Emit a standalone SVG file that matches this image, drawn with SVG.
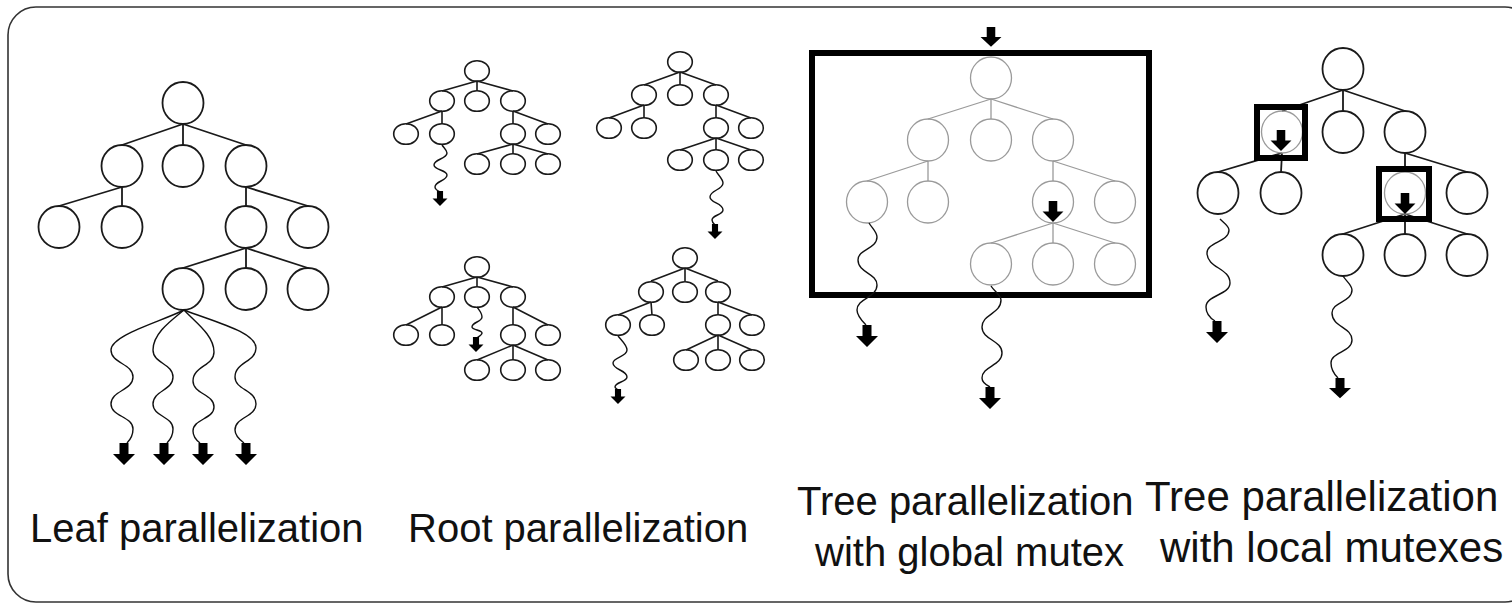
<svg xmlns="http://www.w3.org/2000/svg" width="1512" height="603" viewBox="0 0 1512 603">
<style>
.n{fill:none;stroke:#1a1a1a;stroke-width:1.8}
.ns{fill:none;stroke:#1a1a1a;stroke-width:1.6}
.ng{fill:none;stroke:#9a9a9a;stroke-width:1.3}
.e{fill:none;stroke:#1a1a1a;stroke-width:1.8}
.es{fill:none;stroke:#1a1a1a;stroke-width:1.6}
.eg{fill:none;stroke:#9a9a9a;stroke-width:1.3}
.w{fill:none;stroke:#111;stroke-width:1.4}
.mx{fill:none;stroke:#000;stroke-width:6}
.t{font-family:"Liberation Sans",Arial,Helvetica,sans-serif;font-size:40px;fill:#111}
.a{fill:#000}
</style>
<defs>
<path id="arr" d="M-4.5,0H4.5V11H11L0,22L-11,11H-4.5Z"/>
</defs>
<rect x="8" y="7" width="1525" height="595" rx="28" ry="28" fill="#fff" stroke="#333" stroke-width="1.6"/>

<g id="leaf">
<g id="leaf-edges">
<path class="e" d="M183,124L122,145M183,124L183,145M183,124L246,145M122,187L59,206M122,187L122,206M246,187L246,206M246,187L308,206M246,248L183,268M246,248L246,268M246,248L308,268"/>
</g>
<g id="leaf-nodes">
<ellipse class="n" cx="183" cy="103" rx="20.5" ry="21"/>
<ellipse class="n" cx="122" cy="166" rx="20.5" ry="21"/>
<ellipse class="n" cx="183" cy="166" rx="20.5" ry="21"/>
<ellipse class="n" cx="246" cy="166" rx="20.5" ry="21"/>
<ellipse class="n" cx="59" cy="227" rx="20.5" ry="21"/>
<ellipse class="n" cx="122" cy="227" rx="20.5" ry="21"/>
<ellipse class="n" cx="246" cy="227" rx="20.5" ry="21"/>
<ellipse class="n" cx="308" cy="227" rx="20.5" ry="21"/>
<ellipse class="n" cx="183" cy="289" rx="20.5" ry="21"/>
<ellipse class="n" cx="246" cy="289" rx="20.5" ry="21"/>
<ellipse class="n" cx="308" cy="289" rx="20.5" ry="21"/>
</g>
<g id="leaf-threads">
<path class="w" d="M184,310C160,322 111,335 111,350C111,363.5 133,363.5 133,377C133,390.5 111,390.5 111,404C111,416.5 133,416.5 133,429C133,436 130,440 127,443"/>
<path class="w" d="M184,310C172,320 153,333 153,350C153,363.5 173,363.5 173,377C173,390.5 153,390.5 153,404C153,416.5 173,416.5 173,429C173,436 170,440 167,443"/>
<path class="w" d="M184,310C195,322 214,335 214,352C214,366 193,366 193,381C193,394 214,394 214,407C214,419 193,419 193,431C193,436 196,440 200,443"/>
<path class="w" d="M184,310C215,322 256,332 256,348C256,362 235,362 235,377C235,390 256,390 256,404C256,417 235,417 235,430C235,436 240,440 244,443"/>
<use href="#arr" class="a" transform="translate(124,443)"/>
<use href="#arr" class="a" transform="translate(164,443)"/>
<use href="#arr" class="a" transform="translate(203,443)"/>
<use href="#arr" class="a" transform="translate(246,443)"/>
</g>
<text class="t" x="30" y="542">Leaf parallelization</text>
</g>

<g id="root">
<g id="root-tree-a">
<path class="es" d="M477,81L442,91M477,81L477,91M477,81L513,91M442,111L406,124M442,111L442,124M513,111L513,124M513,111L548,124M513,144L477,154M513,144L513,154M513,144L548,154"/>
<ellipse class="ns" cx="477" cy="71" rx="12.3" ry="10.3"/>
<ellipse class="ns" cx="442" cy="101" rx="12.3" ry="10.3"/>
<ellipse class="ns" cx="477" cy="101" rx="12.3" ry="10.3"/>
<ellipse class="ns" cx="513" cy="101" rx="12.3" ry="10.3"/>
<ellipse class="ns" cx="406" cy="134" rx="12.3" ry="10.3"/>
<ellipse class="ns" cx="442" cy="134" rx="12.3" ry="10.3"/>
<ellipse class="ns" cx="513" cy="134" rx="12.3" ry="10.3"/>
<ellipse class="ns" cx="548" cy="134" rx="12.3" ry="10.3"/>
<ellipse class="ns" cx="477" cy="164" rx="12.3" ry="10.3"/>
<ellipse class="ns" cx="513" cy="164" rx="12.3" ry="10.3"/>
<ellipse class="ns" cx="548" cy="164" rx="12.3" ry="10.3"/>
<path class="w" d="M442,145C444,148 447,150 447,153C447,159 434,159 434,165C434,170 447,170 447,175C447,181 435,181 435,187C435,189 438,191 440,192"/>
<use href="#arr" class="a" transform="translate(440,191) scale(0.68)"/>
</g>
<g id="root-tree-b">
<path class="es" d="M680,72L644,85M680,72L680,85M680,72L716,85M644,105L609,118M644,105L644,118M716,105L716,118M716,105L751,118M716,138L680,150M716,138L716,150M716,138L751,150"/>
<ellipse class="ns" cx="680" cy="62" rx="12.3" ry="10.3"/>
<ellipse class="ns" cx="644" cy="95" rx="12.3" ry="10.3"/>
<ellipse class="ns" cx="680" cy="95" rx="12.3" ry="10.3"/>
<ellipse class="ns" cx="716" cy="95" rx="12.3" ry="10.3"/>
<ellipse class="ns" cx="609" cy="128" rx="12.3" ry="10.3"/>
<ellipse class="ns" cx="644" cy="128" rx="12.3" ry="10.3"/>
<ellipse class="ns" cx="716" cy="128" rx="12.3" ry="10.3"/>
<ellipse class="ns" cx="751" cy="128" rx="12.3" ry="10.3"/>
<ellipse class="ns" cx="680" cy="160" rx="12.3" ry="10.3"/>
<ellipse class="ns" cx="716" cy="160" rx="12.3" ry="10.3"/>
<ellipse class="ns" cx="751" cy="160" rx="12.3" ry="10.3"/>
<path class="w" d="M716,171C718,175 723,179 723,183C723,190 710,190 710,197C710,203 723,203 723,210C723,215 712,215 712,220C712,222 714,224 715,225"/>
<use href="#arr" class="a" transform="translate(715,224) scale(0.68)"/>
</g>
<g id="root-tree-c">
<path class="es" d="M477,277L442,287M477,277L477,287M477,277L513,287M442,307L406,325M442,307L442,325M513,307L513,325M513,307L548,325M513,345L477,360M513,345L513,360M513,345L548,360"/>
<ellipse class="ns" cx="477" cy="267" rx="12.3" ry="10.3"/>
<ellipse class="ns" cx="442" cy="297" rx="12.3" ry="10.3"/>
<ellipse class="ns" cx="477" cy="297" rx="12.3" ry="10.3"/>
<ellipse class="ns" cx="513" cy="297" rx="12.3" ry="10.3"/>
<ellipse class="ns" cx="406" cy="335" rx="12.3" ry="10.3"/>
<ellipse class="ns" cx="442" cy="335" rx="12.3" ry="10.3"/>
<ellipse class="ns" cx="513" cy="335" rx="12.3" ry="10.3"/>
<ellipse class="ns" cx="548" cy="335" rx="12.3" ry="10.3"/>
<ellipse class="ns" cx="477" cy="370" rx="12.3" ry="10.3"/>
<ellipse class="ns" cx="513" cy="370" rx="12.3" ry="10.3"/>
<ellipse class="ns" cx="548" cy="370" rx="12.3" ry="10.3"/>
<path class="w" d="M477,307C479,310 482,313 482,317C482,322 472,322 472,327C472,330 482,330 482,333C482,335 478,337 477,338"/>
<use href="#arr" class="a" transform="translate(476,337) scale(0.68)"/>
</g>
<g id="root-tree-d">
<path class="es" d="M685,268L651,281M685,268L685,281M685,268L718,281M651,302L618,315M651,302L652,315M718,302L718,315M718,302L752,315M718,335L686,350M718,335L718,350M718,335L752,350"/>
<ellipse class="ns" cx="685" cy="258" rx="12.3" ry="10.3"/>
<ellipse class="ns" cx="651" cy="292" rx="12.3" ry="10.3"/>
<ellipse class="ns" cx="685" cy="292" rx="12.3" ry="10.3"/>
<ellipse class="ns" cx="718" cy="292" rx="12.3" ry="10.3"/>
<ellipse class="ns" cx="618" cy="325" rx="12.3" ry="10.3"/>
<ellipse class="ns" cx="652" cy="325" rx="12.3" ry="10.3"/>
<ellipse class="ns" cx="718" cy="325" rx="12.3" ry="10.3"/>
<ellipse class="ns" cx="752" cy="325" rx="12.3" ry="10.3"/>
<ellipse class="ns" cx="686" cy="360" rx="12.3" ry="10.3"/>
<ellipse class="ns" cx="718" cy="360" rx="12.3" ry="10.3"/>
<ellipse class="ns" cx="752" cy="360" rx="12.3" ry="10.3"/>
<path class="w" d="M618,336C621,340 627,345 627,350C627,357 613,357 613,363C613,370 627,370 627,377C627,382 615,382 615,387C615,388 617,389 618,390"/>
<use href="#arr" class="a" transform="translate(618,389) scale(0.68)"/>
</g>
<text class="t" x="408" y="542">Root parallelization</text>
</g>

<g id="global">
<g id="global-edges">
<path class="eg" d="M991,99L928,119M991,99L991,119M991,99L1053,119M928,161L867,181M928,161L928,181M1053,161L1053,181M1053,161L1115,181M1053,223L991,243M1053,223L1053,243M1053,223L1115,243"/>
</g>
<g id="global-nodes">
<ellipse class="ng" cx="991" cy="78" rx="20.5" ry="21"/>
<ellipse class="ng" cx="928" cy="140" rx="20.5" ry="21"/>
<ellipse class="ng" cx="991" cy="140" rx="20.5" ry="21"/>
<ellipse class="ng" cx="1053" cy="140" rx="20.5" ry="21"/>
<ellipse class="ng" cx="867" cy="202" rx="20.5" ry="21"/>
<ellipse class="ng" cx="928" cy="202" rx="20.5" ry="21"/>
<ellipse class="ng" cx="1053" cy="202" rx="20.5" ry="21"/>
<ellipse class="ng" cx="1115" cy="202" rx="20.5" ry="21"/>
<ellipse class="ng" cx="991" cy="264" rx="20.5" ry="21"/>
<ellipse class="ng" cx="1053" cy="264" rx="20.5" ry="21"/>
<ellipse class="ng" cx="1115" cy="264" rx="20.5" ry="21"/>
</g>
<rect id="global-mutex" class="mx" x="812" y="53" width="337" height="242"/>
<use href="#arr" class="a" transform="translate(991,27) scale(0.95,0.9)"/>
<use href="#arr" class="a" transform="translate(1053,201) scale(0.95)"/>
<g id="global-threads">
<path class="w" d="M869,223C872,228 877,232 877,237C877,249 858,249 858,260C858,273 877,273 877,285C877,298 857,298 857,310C857,316 862,321 866,325"/>
<path class="w" d="M991,286C994,291 1001,295 1001,300C1001,314 982,314 982,327C982,340 1002,340 1002,353C1002,366 982,366 982,378C982,382 986,385 990,387"/>
<use href="#arr" class="a" transform="translate(867,325)"/>
<use href="#arr" class="a" transform="translate(990,387)"/>
</g>
<text class="t" x="797" y="515">Tree parallelization</text>
<text class="t" x="815" y="566">with global mutex</text>
</g>

<g id="local">
<g id="local-edges">
<path class="e" d="M1343,90L1282,111M1343,90L1343,111M1343,90L1405,111M1282,153L1218,172M1282,153L1281,172M1405,153L1405,172M1405,153L1467,172M1405,214L1343,234M1405,214L1405,234M1405,214L1467,234"/>
</g>
<g id="local-nodes">
<ellipse class="n" cx="1343" cy="69" rx="20.5" ry="21"/>
<ellipse class="ng" cx="1282" cy="132" rx="20.5" ry="21"/>
<ellipse class="n" cx="1343" cy="132" rx="20.5" ry="21"/>
<ellipse class="n" cx="1405" cy="132" rx="20.5" ry="21"/>
<ellipse class="n" cx="1218" cy="193" rx="20.5" ry="21"/>
<ellipse class="n" cx="1281" cy="193" rx="20.5" ry="21"/>
<ellipse class="ng" cx="1405" cy="193" rx="20.5" ry="21"/>
<ellipse class="n" cx="1467" cy="193" rx="20.5" ry="21"/>
<ellipse class="n" cx="1343" cy="255" rx="20.5" ry="21"/>
<ellipse class="n" cx="1405" cy="255" rx="20.5" ry="21"/>
<ellipse class="n" cx="1467" cy="255" rx="20.5" ry="21"/>
</g>
<rect id="local-mutex-1" class="mx" x="1257" y="107" width="48" height="51"/>
<rect id="local-mutex-2" class="mx" x="1379" y="169" width="50" height="50"/>
<use href="#arr" class="a" transform="translate(1281,130) scale(0.95)"/>
<use href="#arr" class="a" transform="translate(1405,193) scale(0.95)"/>
<g id="local-threads">
<path class="w" d="M1220,219C1224,223 1229,226 1229,230C1229,242 1207,242 1207,253C1207,268 1230,268 1230,283C1230,295 1206,295 1206,307C1206,313 1210,318 1215,321"/>
<path class="w" d="M1343,276C1346,281 1352,285 1352,290C1352,302 1332,302 1332,313C1332,327 1352,327 1352,340C1352,352 1331,352 1331,363C1331,369 1334,374 1338,378"/>
<use href="#arr" class="a" transform="translate(1217,321)"/>
<use href="#arr" class="a" transform="translate(1340,378) scale(1,0.92)"/>
</g>
<text class="t" x="1145" y="511" style="font-size:42px">Tree parallelization</text>
<text class="t" x="1160" y="562" style="font-size:42px">with local mutexes</text>
</g>
</svg>
